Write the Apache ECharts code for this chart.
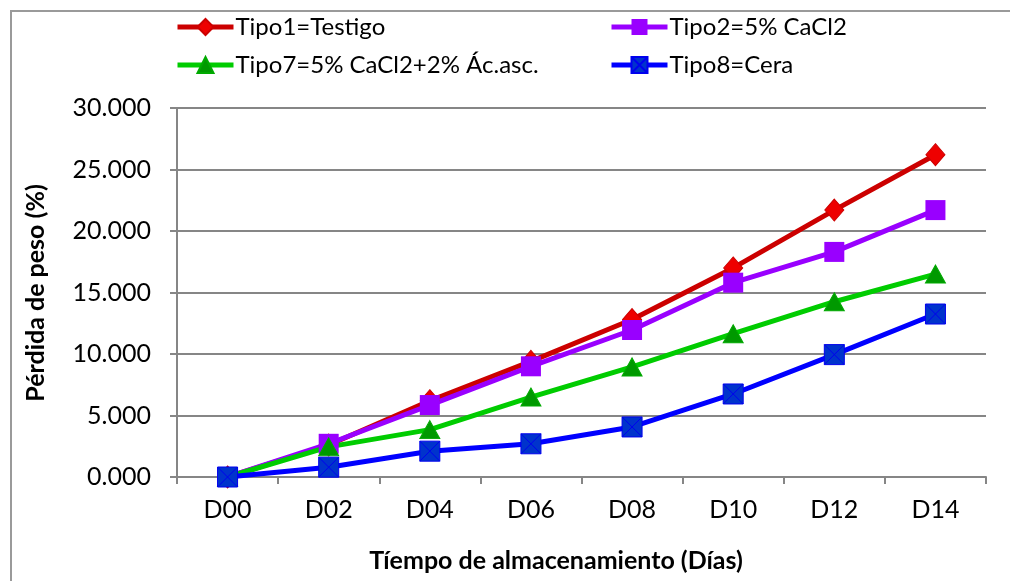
<!DOCTYPE html>
<html>
<head>
<meta charset="utf-8">
<script src="https://cdn.jsdelivr.net/npm/echarts@6/dist/echarts.min.js"></script>
<style>
  html, body { margin: 0; padding: 0; background: #fff; }
  #chart { width: 1010px; height: 581px; }
</style>
</head>
<body>
<div id="chart"></div>
<script>
// Storage days
const categories = ['D00', 'D02', 'D04', 'D06', 'D08', 'D10', 'D12', 'D14'];

// Weight loss (%) per treatment
const tipo1 = [0, 2.6, 6.2, 9.4, 12.8, 17.0, 21.7, 26.2];
const tipo2 = [0, 2.7, 5.85, 9.0, 11.95, 15.8, 18.3, 21.7];
const tipo7 = [0, 2.45, 3.85, 6.5, 8.95, 11.65, 14.25, 16.5];
const tipo8 = [0, 0.8, 2.1, 2.7, 4.07, 6.75, 9.95, 13.25];

const seriesNames = ['Tipo1=Testigo', 'Tipo2=5% CaCl2', 'Tipo7=5% CaCl2+2% Ác.asc.', 'Tipo8=Cera'];

const yTicks = { min: 0, max: 30, interval: 5 };

const FONT = 'Lato';
const chart = echarts.init(document.getElementById('chart'));

// Square with a diagonal cross, stroked by the item border
const crossSquare = 'path://M0,0H10V10H0Z M0,0L10,10 M10,0L0,10';

function legendAt(name, left, top) {
  return {
    data: [name],
    left: left,
    top: top,
    padding: 0,
    itemWidth: 56,
    itemHeight: 20,
    itemGap: 0,
    lineStyle: { width: 5 },
    textStyle: { fontFamily: FONT, fontSize: 24, color: '#000', padding: [0, 0, 0, -3] },
    selectedMode: false
  };
}

chart.setOption({
  animation: false,
  backgroundColor: '#fff',
  legend: [
    legendAt(seriesNames[0], 175, 15),
    legendAt(seriesNames[1], 609, 15),
    legendAt(seriesNames[2], 175, 53),
    legendAt(seriesNames[3], 609, 53)
  ],
  grid: { left: 177, right: 24, top: 108, bottom: 104, containLabel: false },
  xAxis: {
    type: 'category',
    data: categories,
    boundaryGap: true,
    axisLine: { lineStyle: { color: '#868686', width: 2 } },
    axisTick: { show: true, alignWithLabel: false, length: 7, lineStyle: { color: '#868686', width: 2 } },
    axisLabel: { fontFamily: FONT, fontSize: 25, color: '#000', margin: 20 },
    splitLine: { show: false }
  },
  yAxis: {
    type: 'value',
    min: yTicks.min,
    max: yTicks.max,
    interval: yTicks.interval,
    axisLine: { show: true, lineStyle: { color: '#868686', width: 2 } },
    axisTick: { show: true, length: 7, lineStyle: { color: '#868686', width: 2 } },
    axisLabel: {
      fontFamily: FONT, fontSize: 25, color: '#000', margin: 26,
      formatter: v => v.toFixed(3)
    },
    splitLine: { lineStyle: { color: '#868686', width: 2 } }
  },
  graphic: [
    {
      type: 'rect',
      shape: { x: 11, y: 11, width: 1200, height: 800 },
      style: { fill: 'none', stroke: '#9a9a9a', lineWidth: 2 },
      silent: true, z: -1
    },
    {
      type: 'text',
      x: 36, y: 293,
      rotation: Math.PI / 2,
      style: {
        text: 'Pérdida de peso (%)',
        font: 'bold 25px ' + FONT,
        fill: '#000',
        textAlign: 'center',
        textVerticalAlign: 'middle'
      }
    },
    {
      type: 'text',
      x: 556, y: 561,
      style: {
        text: 'Tíempo de almacenamiento (Días)',
        font: 'bold 25px ' + FONT,
        fill: '#000',
        textAlign: 'center',
        textVerticalAlign: 'middle'
      }
    }
  ],
  series: [
    {
      name: seriesNames[0], type: 'line', data: tipo1,
      symbol: 'diamond', symbolSize: [19, 22],
      lineStyle: { color: '#CC0000', width: 5 },
      itemStyle: { color: '#EE0000', borderColor: '#CC0000', borderWidth: 1 }
    },
    {
      name: seriesNames[1], type: 'line', data: tipo2,
      symbol: 'rect', symbolSize: 20,
      lineStyle: { color: '#9900FF', width: 5 },
      itemStyle: { color: '#9900FF', borderColor: '#9900FF', borderWidth: 0 }
    },
    {
      name: seriesNames[2], type: 'line', data: tipo7,
      symbol: 'triangle', symbolSize: [20, 18],
      lineStyle: { color: '#00CC00', width: 5 },
      itemStyle: { color: '#009900', borderColor: '#00AA00', borderWidth: 1 }
    },
    {
      name: seriesNames[3], type: 'line', data: tipo8,
      symbol: crossSquare, symbolSize: 20,
      lineStyle: { color: '#0000FF', width: 5 },
      itemStyle: { color: '#0033CC', borderColor: '#0000EE', borderWidth: 1 }
    }
  ]
});
</script>
</body>
</html>
